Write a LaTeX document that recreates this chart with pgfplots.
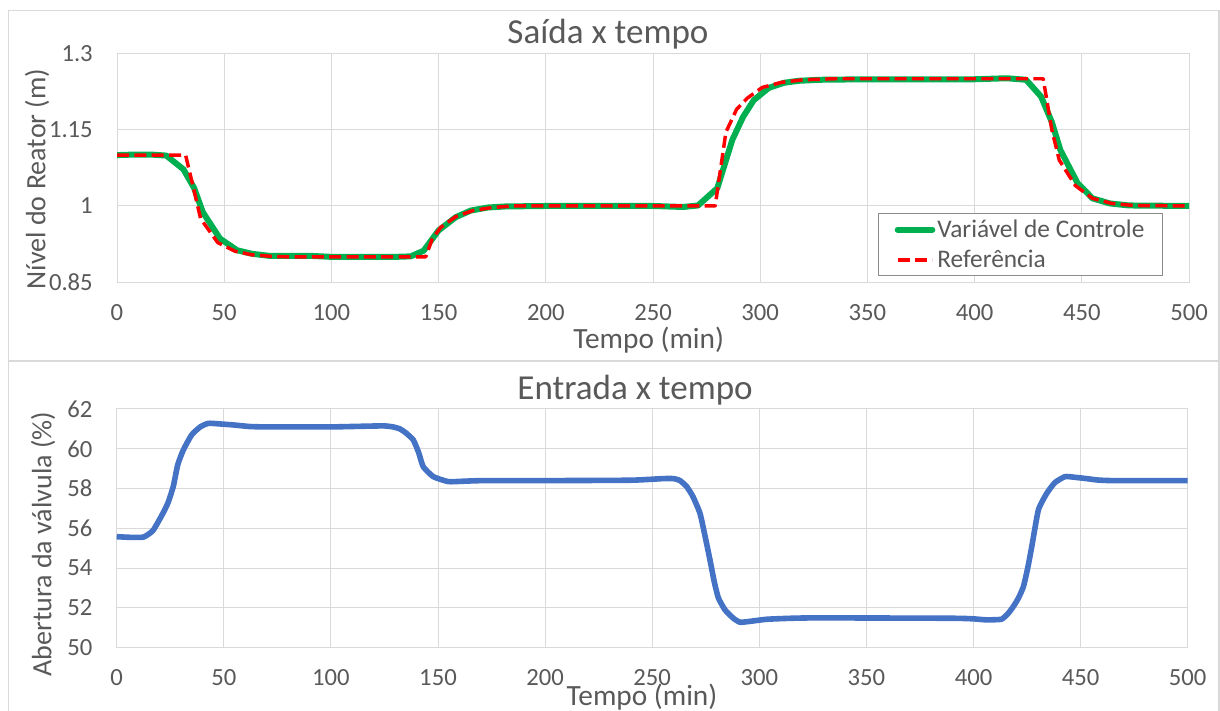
\documentclass[border=0pt]{standalone}
\usepackage{pgfplots}
\pgfplotsset{compat=1.18}
\usepackage{fontspec}
\setmainfont{Carlito}
\definecolor{txt}{HTML}{595959}
\definecolor{gridc}{HTML}{D9D9D9}
\definecolor{legc}{HTML}{8C8C8C}
\definecolor{vgreen}{HTML}{00B050}
\definecolor{vred}{HTML}{FF0000}
\definecolor{vblue}{HTML}{4472C4}
\pgfplotsset{
 every axis title shift=0pt,
 common/.style={
  scale only axis,
  xmin=0,xmax=500, xtick={0,50,...,500},
  grid=major, major grid style={draw=gridc,line width=0.75pt},
  axis line style={draw=gridc,line width=0.75pt},
  major tick length=0pt,
  tick label style={font=\fontsize{18.5}{20}\selectfont, text=txt},
  /pgf/number format/assume math mode=true,
  xticklabel style={anchor=center,yshift=-22.5pt},
  yticklabel style={anchor=east,inner sep=0pt,xshift=-18pt},
  title style={font=\fontsize{26.3}{29}\selectfont, text=txt, anchor=center},
  xlabel style={font=\fontsize{22}{24}\selectfont, text=txt, anchor=center},
  ylabel style={font=\fontsize{21}{24}\selectfont, text=txt, anchor=center},
 }
}
\begin{document}
\begin{tikzpicture}
\path[use as bounding box] (0pt,0pt) rectangle (915pt,-532.5pt);
\draw[gridc, line width=1.1pt] (6.375pt,-7.875pt) rectangle (914.25pt,-560pt);
\draw[gridc, line width=1.1pt] (6.375pt,-270.75pt) -- (914.25pt,-270.75pt);

\begin{axis}[common,
  at={(87.75pt,-211.725pt)}, anchor=south west,
  width=804pt, height=171.75pt,
  ymin=0.85, ymax=1.3, ytick={0.85,1,1.15,1.3},
  title={Saída x tempo},
  title style={at={(axis description cs:0.458,1.084)}},
  xlabel={Tempo (min)},
  xlabel style={at={(axis description cs:0.496,-0.252)}},
  ylabel={Nível do Reator (m)},
  ylabel style={at={(axis description cs:-0.0746,0.451)}},
  legend style={at={(axis description cs:0.710,0.301)}, anchor=north west,
    draw=legc, line width=0.8pt, font=\fontsize{19}{21}\selectfont, text=txt,
    inner xsep=12pt, inner ysep=3pt, row sep=5pt, cells={anchor=west},
    nodes={inner sep=1.5pt}},
  legend image code/.code={\draw[#1] (0pt,0pt) -- (26pt,0pt);},
]
\addplot[vgreen, line width=4.5pt, line join=round, line cap=round] coordinates {
(0,1.100) (8,1.101) (16,1.101) (23,1.099) (31,1.072) (36,1.035) (40,0.988)
(48,0.936) (56,0.913) (63,0.906) (71,0.902) (90,0.902) (100,0.900) (130,0.900)
(137,0.901) (143,0.912) (150,0.952) (158,0.978) (165,0.991) (173,0.997) (181,0.999)
(200,1.000) (250,1.000) (264,0.998) (271,1.001) (280,1.035) (287,1.130) (292,1.175)
(297,1.208) (304,1.232) (311,1.242) (318,1.246) (328,1.248) (350,1.249) (400,1.249)
(415,1.251) (424,1.248) (431,1.215) (436,1.165) (440,1.110) (448,1.045) (455,1.015)
(463,1.005) (472,1.001) (500,1.000)};
\addlegendentry{Variável de Controle}
\addplot[vred, line width=2.6pt, dash pattern=on 9pt off 4pt, line join=round] coordinates {
(0,1.100) (32,1.100) (35.5,1.038) (39,0.975) (47,0.928) (55,0.911) (63,0.904)
(72,0.901) (80,0.900) (144,0.900) (147,0.935) (151,0.958) (158,0.979) (166,0.991)
(175,0.997) (185,1.000) (279,1.000) (284,1.145) (289,1.190) (294,1.212) (301,1.233)
(310,1.243) (320,1.248) (335,1.250) (432,1.250) (436,1.150) (439.5,1.090) (447,1.040)
(455,1.015) (464,1.005) (474,1.001) (500,1.000)};
\addlegendentry{Referência}
\end{axis}

\begin{axis}[common,
  at={(87.525pt,-485.775pt)}, anchor=south west,
  width=803.25pt, height=179.03pt,
  ymin=50, ymax=62, ytick={50,52,...,62},
  title={Entrada x tempo},
  title style={at={(axis description cs:0.484,1.080)}},
  xlabel={Tempo (min)},
  xlabel style={at={(axis description cs:0.4905,-0.2065)}},
  ylabel={Abertura da válvula (\%)},
  ylabel style={at={(axis description cs:-0.0688,0.434)}},
]
\addplot[vblue, line width=4.2pt, smooth, tension=0.3, line join=round] coordinates {
(0,55.58) (6,55.55) (12.5,55.56) (17,55.9) (21.7,56.78) (24,57.3) (26.4,58.1)
(28.5,59.2) (31.1,59.94) (35,60.7) (39,61.1) (42.8,61.28) (48,61.25) (54.4,61.2)
(62,61.12) (70,61.1) (100,61.1) (118,61.14) (125,61.15) (129,61.1) (132.2,61.0)
(135,60.8) (138.5,60.44) (141,59.8) (143.1,59.1) (147.8,58.6) (154.8,58.35)
(162,58.37) (171.1,58.4) (200,58.4) (240,58.42) (255,58.5) (260,58.5) (263,58.4)
(266.1,58.1) (269,57.6) (272.3,56.76) (274.5,55.7) (277,54.4) (279,53.3) (280.9,52.5)
(284,51.9) (287.9,51.48) (291,51.28) (296,51.33) (303.5,51.43) (315,51.48) (328,51.5)
(390,51.48) (400,51.45) (406,51.4) (413,51.43) (416,51.7) (418.6,52.07) (421,52.5)
(423.3,53.07) (425.3,54.0) (427.2,55.08) (430.3,56.93) (434.2,57.76) (438,58.3)
(442.7,58.6) (447,58.57) (452.8,58.5) (458,58.43) (465.3,58.4) (500,58.4)};
\end{axis}
\end{tikzpicture}
\end{document}
